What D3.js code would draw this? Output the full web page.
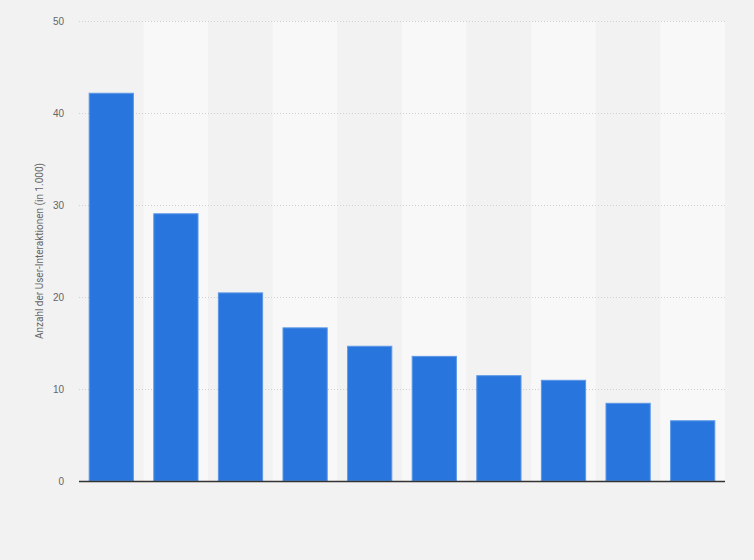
<!DOCTYPE html>
<html>
<head>
<meta charset="utf-8">
<script src="https://cdn.jsdelivr.net/npm/d3@7"></script>
<style>
  body { margin: 0; background: #f2f2f2; }
  svg { display: block; font-family: Roboto, Arial, sans-serif; }
</style>
</head>
<body>
<div id="chart"></div>
<script>
// categories are not labelled in the chart, so only positions are kept
const categories = ['1', '2', '3', '4', '5', '6', '7', '8', '9', '10'];
const values = [42.2, 29.1, 20.5, 16.7, 14.7, 13.6, 11.5, 11.0, 8.5, 6.6];
const yTicks = [0, 10, 20, 30, 40, 50];
const yTitle = 'Anzahl der User-Interaktionen (in 1.000)';

const width = 754, height = 560;
const margin = { top: 21, right: 29, bottom: 79, left: 79 };
const innerW = width - margin.left - margin.right;
const innerH = height - margin.top - margin.bottom;

const svg = d3.select('#chart').append('svg')
    .attr('width', width)
    .attr('height', height);

svg.append('rect')
    .attr('width', width).attr('height', height)
    .attr('fill', '#f2f2f2');

const g = svg.append('g')
    .attr('transform', `translate(${margin.left},${margin.top})`);

const x = d3.scaleBand()
    .domain(categories)
    .range([0, innerW])
    .paddingInner(0.3)
    .paddingOuter(0.15);

const y = d3.scaleLinear()
    .domain([0, 50])
    .range([innerH, 0]);

// alternating column bands
const step = x.step();
g.append('g')
    .selectAll('rect')
    .data(categories)
    .join('rect')
    .attr('x', d => x(d) - x.bandwidth() * 0 - step * 0.15)
    .attr('y', 0)
    .attr('width', step)
    .attr('height', innerH)
    .attr('fill', (d, i) => i % 2 ? '#f8f8f8' : '#f2f2f2');

// grid lines
g.append('g')
    .selectAll('line')
    .data(yTicks.filter(t => t > 0))
    .join('line')
    .attr('x1', 0)
    .attr('x2', innerW)
    .attr('y1', d => y(d) + 0.5)
    .attr('y2', d => y(d) + 0.5)
    .attr('stroke', '#d0d0d0')
    .attr('stroke-dasharray', '1,2');

// y axis labels
const yAxis = g.append('g')
    .call(d3.axisLeft(y).tickValues(yTicks).tickSize(0).tickPadding(15));
yAxis.select('.domain').remove();
yAxis.selectAll('text')
    .attr('fill', '#666')
    .style('font-size', '10px');

// bars
g.append('g')
    .selectAll('rect')
    .data(values)
    .join('rect')
    .attr('x', (d, i) => x(categories[i]) + 0.5)
    .attr('y', d => y(d) + 0.5)
    .attr('width', x.bandwidth() - 1)
    .attr('height', d => innerH - y(d) - 0.5)
    .attr('fill', '#2876dd')
    .attr('stroke', '#5c97e6')
    .attr('stroke-width', 1);

// baseline
g.append('line')
    .attr('x1', 0)
    .attr('x2', innerW)
    .attr('y1', innerH + 0.5)
    .attr('y2', innerH + 0.5)
    .attr('stroke', '#333')
    .attr('stroke-width', 1.5);

// y title
svg.append('text')
    .attr('transform', `translate(43,${margin.top + innerH / 2}) rotate(-90)`)
    .attr('text-anchor', 'middle')
    .attr('fill', '#666')
    .style('font-size', '10px')
    .text(yTitle);
</script>
</body>
</html>
